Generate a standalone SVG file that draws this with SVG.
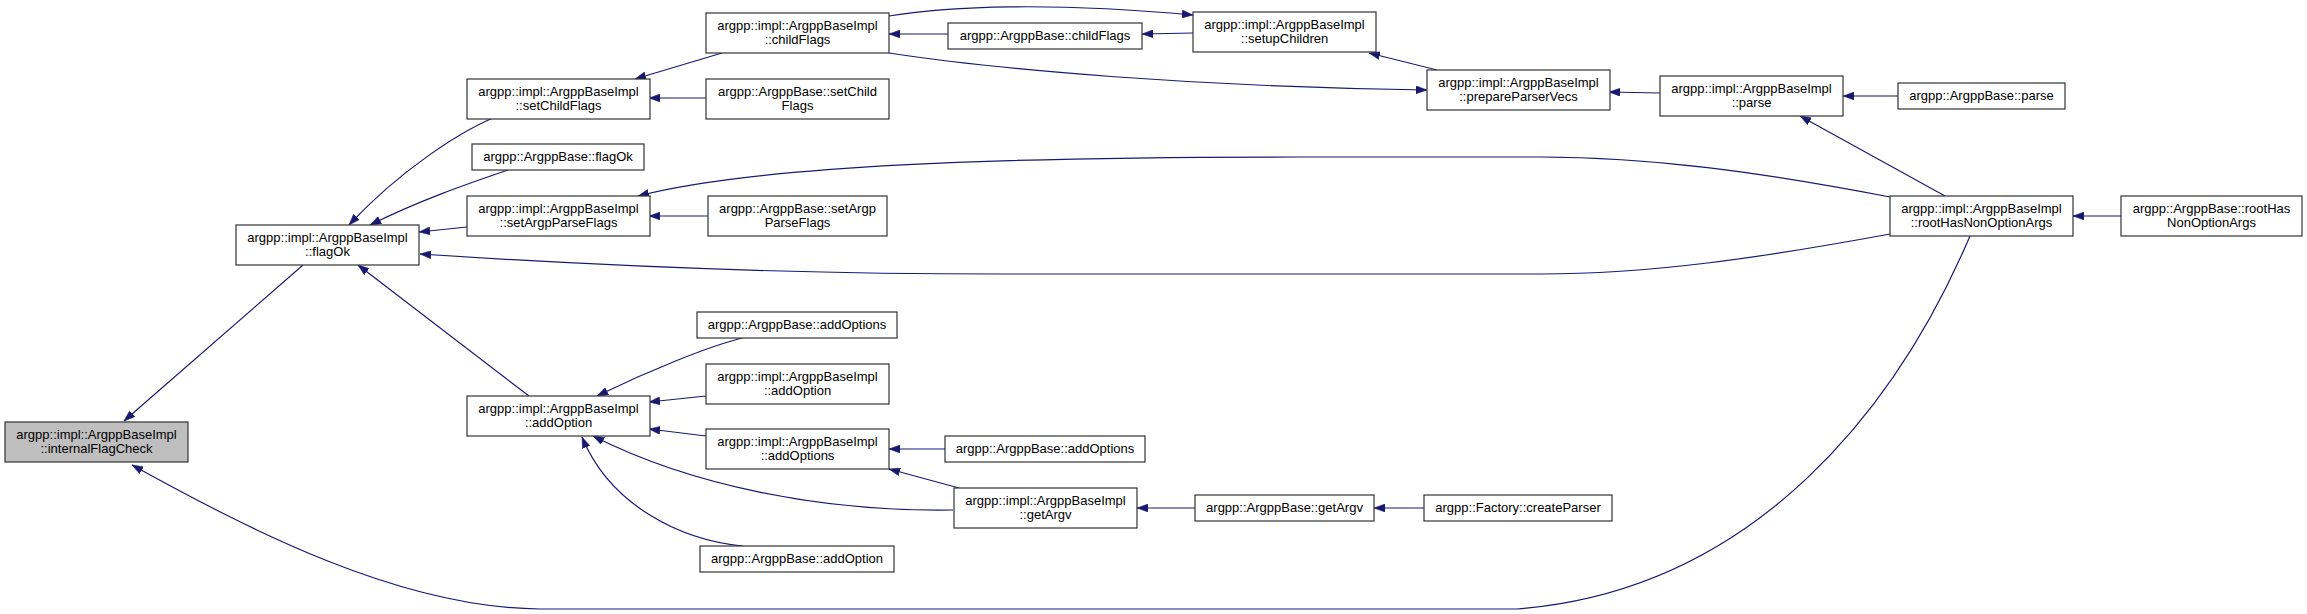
<svg xmlns="http://www.w3.org/2000/svg" width="2307" height="614" viewBox="0 0 2307 614">
<style>
.n rect{fill:#ffffff;stroke:#333333;stroke-width:1.2}
.n.hl rect{fill:#bfbfbf}
.n text{font-family:"Liberation Sans",Arial,sans-serif;font-size:13px;fill:#000;text-anchor:middle}
.e path{fill:none;stroke:#191970;stroke-width:1.2;marker-end:url(#ah)}
</style>
<defs>
<marker id="ah" viewBox="0 0 11 8" refX="11" refY="4" markerWidth="11" markerHeight="8" markerUnits="userSpaceOnUse" orient="auto">
<path d="M0,0 L11,4 L0,8 z" fill="#191970" stroke="#191970" stroke-width="0.5"/>
</marker>
</defs>
<rect width="2307" height="614" fill="#ffffff"/>
<g id="edges" class="e">
<path d="M303,265 L124,421"/>
<path d="M1970,236 C1900,400 1760,590 1517,609 L540,609 C400,608 250,530 132,465"/>
<path d="M493,118 C460,132 400,170 349,225"/>
<path d="M508,170 C470,183 420,200 370,225"/>
<path d="M467,227 L419,232"/>
<path d="M1890,197 C1760,172 1650,157 1540,157 L1300,157 C1000,157 760,165 638,196"/>
<path d="M1890,234 C1760,258 1650,274 1540,274 L1000,274 C800,274 600,266 420,254"/>
<path d="M529,396 L358,265"/>
<path d="M722,53 L635,79"/>
<path d="M706,98 L649,98"/>
<path d="M708,216 L649,216"/>
<path d="M948,34 L889,34"/>
<path d="M889,16 C950,6 1050,2 1193,15"/>
<path d="M1193,33 L1142,34"/>
<path d="M1437,70 L1369,53"/>
<path d="M889,53 C1000,70 1200,87 1427,90"/>
<path d="M1660,93 L1609,92"/>
<path d="M1898,96 L1843,96"/>
<path d="M1945,196 L1800,116"/>
<path d="M2121,216 L2073,216"/>
<path d="M742,338 C710,346 650,370 597,396"/>
<path d="M706,396 L649,402"/>
<path d="M706,436 L649,429"/>
<path d="M953,510 C820,512 690,485 593,436"/>
<path d="M743,546 C680,540 610,505 582,437"/>
<path d="M945,449 L889,449"/>
<path d="M959,488 L889,469"/>
<path d="M1195,508 L1137,508"/>
<path d="M1424,508 L1374,508"/>
</g>
<g id="internalFlagCheck" class="n hl"><rect x="5" y="422" width="183" height="40"/><text x="96.5" y="439">argpp::impl::ArgppBaseImpl</text><text x="96.5" y="453">::internalFlagCheck</text></g>
<g id="flagOkImpl" class="n"><rect x="236" y="225" width="183" height="40"/><text x="327.5" y="242">argpp::impl::ArgppBaseImpl</text><text x="327.5" y="256">::flagOk</text></g>
<g id="setChildFlagsImpl" class="n"><rect x="467" y="79" width="183" height="40"/><text x="558.5" y="96">argpp::impl::ArgppBaseImpl</text><text x="558.5" y="110">::setChildFlags</text></g>
<g id="flagOkBase" class="n"><rect x="472" y="144" width="172" height="26"/><text x="558" y="161">argpp::ArgppBase::flagOk</text></g>
<g id="setArgpParseFlagsImpl" class="n"><rect x="467" y="196" width="183" height="40"/><text x="558.5" y="213">argpp::impl::ArgppBaseImpl</text><text x="558.5" y="227">::setArgpParseFlags</text></g>
<g id="addOptionImpl" class="n"><rect x="467" y="396" width="183" height="40"/><text x="558.5" y="413">argpp::impl::ArgppBaseImpl</text><text x="558.5" y="427">::addOption</text></g>
<g id="childFlagsImpl" class="n"><rect x="706" y="13" width="183" height="40"/><text x="797.5" y="30">argpp::impl::ArgppBaseImpl</text><text x="797.5" y="44">::childFlags</text></g>
<g id="setChildFlagsBase" class="n"><rect x="706" y="79" width="183" height="40"/><text x="797.5" y="96">argpp::ArgppBase::setChild</text><text x="797.5" y="110">Flags</text></g>
<g id="setArgpParseFlagsBase" class="n"><rect x="708" y="196" width="179" height="40"/><text x="797.5" y="213">argpp::ArgppBase::setArgp</text><text x="797.5" y="227">ParseFlags</text></g>
<g id="addOptionsBase1" class="n"><rect x="697" y="312" width="200" height="26"/><text x="797" y="329">argpp::ArgppBase::addOptions</text></g>
<g id="addOptionImpl2" class="n"><rect x="706" y="364" width="183" height="40"/><text x="797.5" y="381">argpp::impl::ArgppBaseImpl</text><text x="797.5" y="395">::addOption</text></g>
<g id="addOptionsImpl" class="n"><rect x="706" y="429" width="183" height="40"/><text x="797.5" y="446">argpp::impl::ArgppBaseImpl</text><text x="797.5" y="460">::addOptions</text></g>
<g id="addOptionBase" class="n"><rect x="700" y="546" width="194" height="26"/><text x="797" y="563">argpp::ArgppBase::addOption</text></g>
<g id="childFlagsBase" class="n"><rect x="948" y="23" width="194" height="26"/><text x="1045" y="40">argpp::ArgppBase::childFlags</text></g>
<g id="addOptionsBase2" class="n"><rect x="945" y="436" width="200" height="26"/><text x="1045" y="453">argpp::ArgppBase::addOptions</text></g>
<g id="getArgvImpl" class="n"><rect x="954" y="488" width="183" height="40"/><text x="1045.5" y="505">argpp::impl::ArgppBaseImpl</text><text x="1045.5" y="519">::getArgv</text></g>
<g id="setupChildren" class="n"><rect x="1193" y="12" width="183" height="40"/><text x="1284.5" y="29">argpp::impl::ArgppBaseImpl</text><text x="1284.5" y="43">::setupChildren</text></g>
<g id="getArgvBase" class="n"><rect x="1195" y="495" width="179" height="26"/><text x="1284.5" y="512">argpp::ArgppBase::getArgv</text></g>
<g id="prepareParserVecs" class="n"><rect x="1427" y="70" width="183" height="40"/><text x="1518.5" y="87">argpp::impl::ArgppBaseImpl</text><text x="1518.5" y="101">::prepareParserVecs</text></g>
<g id="createParser" class="n"><rect x="1424" y="495" width="188" height="26"/><text x="1518" y="512">argpp::Factory::createParser</text></g>
<g id="parseImpl" class="n"><rect x="1660" y="76" width="183" height="40"/><text x="1751.5" y="93">argpp::impl::ArgppBaseImpl</text><text x="1751.5" y="107">::parse</text></g>
<g id="parseBase" class="n"><rect x="1898" y="83" width="167" height="26"/><text x="1981.5" y="100">argpp::ArgppBase::parse</text></g>
<g id="rootHasNonOptionArgsImpl" class="n"><rect x="1890" y="196" width="183" height="40"/><text x="1981.5" y="213">argpp::impl::ArgppBaseImpl</text><text x="1981.5" y="227">::rootHasNonOptionArgs</text></g>
<g id="rootHasNonOptionArgsBase" class="n"><rect x="2121" y="196" width="181" height="40"/><text x="2211.5" y="213">argpp::ArgppBase::rootHas</text><text x="2211.5" y="227">NonOptionArgs</text></g>
</svg>
